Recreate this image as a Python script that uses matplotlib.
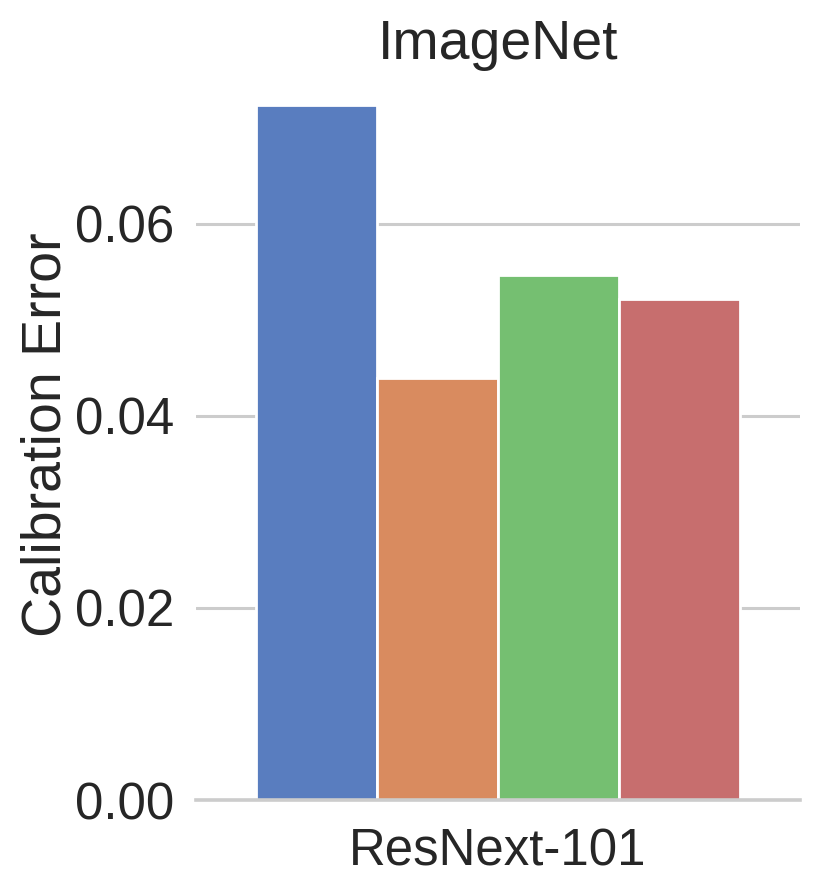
import matplotlib
matplotlib.use("Agg")
import matplotlib.pyplot as plt
import seaborn as sns
import pandas as pd

models = ["ResNext-101"]
methods = ["Method 1", "Method 2", "Method 3", "Method 4"]
errors = [0.0724, 0.0439, 0.0547, 0.0522]

sns.set_theme(context="poster", style="whitegrid", palette="muted")
plt.rcParams['font.family'] = ['Liberation Sans', 'DejaVu Sans']

df = pd.DataFrame({
    "model": models * len(methods),
    "method": methods,
    "err": errors,
})

fig = plt.figure(figsize=(8.3, 8.85), dpi=100)
ax = fig.add_axes([196/830, 1 - 800/885, 604/830, 730/885])
sns.barplot(data=df, x="model", y="err", hue="method", ax=ax, saturation=0.75,
            edgecolor="white", linewidth=2)
ax.legend_.remove()
ax.set_xlabel("")
ax.set_ylabel("Calibration Error", fontsize=40, labelpad=2)
ax.set_title("ImageNet", fontsize=40, pad=8)
ax.set_yticks([0.0, 0.02, 0.04, 0.06])
ax.set_yticklabels(["0.00", "0.02", "0.04", "0.06"])
ax.tick_params(axis="both", labelsize=36.7)
ax.tick_params(axis="x", pad=8)
ax.set_xlim(-0.5, 0.5)
ax.set_ylim(0, 0.076)
ax.grid(axis="y", linewidth=2.2)
sns.despine(left=True)
ax.spines["bottom"].set_color("#cccccc")
ax.spines["bottom"].set_linewidth(2.6)
fig.savefig("out.png", dpi=100)
